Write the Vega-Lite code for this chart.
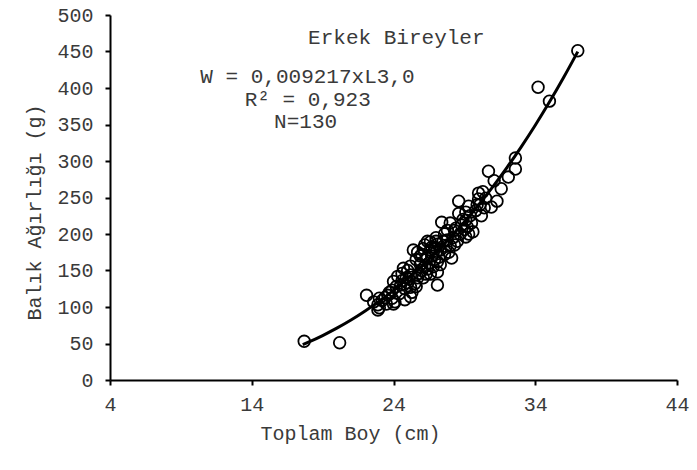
{
  "$schema": "https://vega.github.io/schema/vega-lite/v6.json",
  "width": 567,
  "height": 365,
  "autosize": {"type": "none"},
  "padding": {"left": 110, "top": 15, "right": 20, "bottom": 90},
  "background": "white",
  "config": {
    "view": {"stroke": null},
    "font": "Liberation Mono",
    "axis": {"labelFont": "Liberation Mono", "titleFont": "Liberation Mono", "labelFontSize": 20, "titleFontSize": 20, "titleFontWeight": "normal", "labelColor": "#3a3a3a", "titleColor": "#3a3a3a", "domainColor": "black", "domainWidth": 2, "tickColor": "black", "tickWidth": 2, "tickSize": 5, "grid": false, "labelOverlap": false, "labelFlush": false}
  },
  "datasets": {
    "points": [
      {"L": 17.7, "W": 53}, {"L": 20.2, "W": 51}, {"L": 22.1, "W": 116}, {"L": 22.6, "W": 107}, {"L": 23.0, "W": 112},
      {"L": 23.0, "W": 99}, {"L": 23.5, "W": 104}, {"L": 23.9, "W": 112}, {"L": 23.9, "W": 123}, {"L": 24.1, "W": 107},
      {"L": 22.9, "W": 96}, {"L": 24.3, "W": 142}, {"L": 24.5, "W": 130}, {"L": 24.7, "W": 153}, {"L": 24.6, "W": 136},
      {"L": 24.4, "W": 118}, {"L": 24.2, "W": 128}, {"L": 23.6, "W": 116}, {"L": 23.2, "W": 109}, {"L": 24.0, "W": 104},
      {"L": 24.8, "W": 125}, {"L": 25.2, "W": 114}, {"L": 25.2, "W": 127}, {"L": 25.2, "W": 144}, {"L": 25.2, "W": 156},
      {"L": 25.0, "W": 133}, {"L": 24.9, "W": 140}, {"L": 25.5, "W": 132}, {"L": 25.4, "W": 178}, {"L": 25.9, "W": 158},
      {"L": 25.8, "W": 146}, {"L": 25.6, "W": 165}, {"L": 25.7, "W": 140}, {"L": 26.0, "W": 172}, {"L": 26.0, "W": 150},
      {"L": 26.1, "W": 180}, {"L": 26.3, "W": 167}, {"L": 26.2, "W": 155}, {"L": 26.3, "W": 145}, {"L": 26.4, "W": 190},
      {"L": 26.6, "W": 189}, {"L": 26.6, "W": 178}, {"L": 26.5, "W": 160}, {"L": 26.7, "W": 170}, {"L": 26.8, "W": 155},
      {"L": 26.9, "W": 182}, {"L": 27.0, "W": 175}, {"L": 27.1, "W": 186}, {"L": 27.1, "W": 162}, {"L": 27.1, "W": 148},
      {"L": 27.1, "W": 130}, {"L": 27.0, "W": 195}, {"L": 27.2, "W": 168}, {"L": 27.3, "W": 178}, {"L": 27.4, "W": 216},
      {"L": 27.5, "W": 190}, {"L": 27.6, "W": 200}, {"L": 27.7, "W": 183}, {"L": 27.8, "W": 192}, {"L": 27.9, "W": 175},
      {"L": 28.0, "W": 184}, {"L": 28.1, "W": 167}, {"L": 28.2, "W": 195}, {"L": 28.3, "W": 205}, {"L": 28.4, "W": 208},
      {"L": 28.6, "W": 245}, {"L": 28.5, "W": 190}, {"L": 28.7, "W": 200}, {"L": 28.8, "W": 212}, {"L": 29.0, "W": 206},
      {"L": 29.1, "W": 230}, {"L": 29.1, "W": 219}, {"L": 29.2, "W": 210}, {"L": 29.1, "W": 196}, {"L": 29.3, "W": 238},
      {"L": 29.4, "W": 225}, {"L": 29.6, "W": 203}, {"L": 29.8, "W": 232}, {"L": 30.0, "W": 256}, {"L": 30.0, "W": 248},
      {"L": 30.2, "W": 225}, {"L": 30.1, "W": 240}, {"L": 30.5, "W": 249}, {"L": 30.4, "W": 236}, {"L": 30.7, "W": 286},
      {"L": 30.9, "W": 237}, {"L": 31.1, "W": 273}, {"L": 31.6, "W": 262}, {"L": 31.3, "W": 245}, {"L": 32.1, "W": 278},
      {"L": 32.6, "W": 304}, {"L": 32.6, "W": 289}, {"L": 34.2, "W": 401}, {"L": 35.0, "W": 382}, {"L": 37.0, "W": 451},
      {"L": 24.0, "W": 135}, {"L": 24.6, "W": 146}, {"L": 25.0, "W": 150}, {"L": 25.3, "W": 120}, {"L": 25.6, "W": 128},
      {"L": 25.9, "W": 170}, {"L": 26.1, "W": 140}, {"L": 26.4, "W": 152}, {"L": 26.7, "W": 182}, {"L": 26.9, "W": 165},
      {"L": 27.3, "W": 158}, {"L": 27.6, "W": 172}, {"L": 28.0, "W": 215}, {"L": 28.3, "W": 185}, {"L": 28.9, "W": 220},
      {"L": 29.5, "W": 215}, {"L": 29.9, "W": 240}, {"L": 30.3, "W": 258}, {"L": 23.4, "W": 113}, {"L": 22.9, "W": 103},
      {"L": 24.8, "W": 110}, {"L": 25.7, "W": 175}, {"L": 26.2, "W": 185}, {"L": 27.0, "W": 190}, {"L": 27.8, "W": 205},
      {"L": 28.6, "W": 228}, {"L": 29.3, "W": 200}, {"L": 26.6, "W": 145}, {"L": 25.1, "W": 138}, {"L": 23.7, "W": 120}
    ],
    "curve": [
      {"L": 17.6, "W": 48.4}, {"L": 18, "W": 51.8}, {"L": 19, "W": 60.9}, {"L": 20, "W": 71.0}, {"L": 21, "W": 82.2},
      {"L": 22, "W": 94.6}, {"L": 23, "W": 108.0}, {"L": 24, "W": 122.8}, {"L": 25, "W": 138.8}, {"L": 26, "W": 156.1},
      {"L": 27, "W": 174.8}, {"L": 28, "W": 194.9}, {"L": 29, "W": 216.6}, {"L": 30, "W": 239.8}, {"L": 31, "W": 264.5},
      {"L": 32, "W": 291.0}, {"L": 33, "W": 319.1}, {"L": 34, "W": 349.0}, {"L": 35, "W": 380.7}, {"L": 36, "W": 414.3},
      {"L": 37, "W": 449.8}
    ],
    "notes": [
      {"L": 24.2, "W": 468, "text": "Erkek Bireyler"},
      {"L": 17.93, "W": 415, "text": "W = 0,009217xL3,0"},
      {"L": 17.95, "W": 384, "text": "R² = 0,923"},
      {"L": 17.8, "W": 353, "text": "N=130"}
    ]
  },
  "encoding": {
    "x": {"field": "L", "type": "quantitative", "scale": {"domain": [4, 44], "nice": false, "zero": false},
          "axis": {"values": [4, 14, 24, 34, 44], "title": "Toplam Boy (cm)", "labelPadding": 9, "titlePadding": 9, "titleX": 240, "titleAnchor": null}},
    "y": {"field": "W", "type": "quantitative", "scale": {"domain": [0, 500], "nice": false, "zero": true},
          "axis": {"values": [0, 50, 100, 150, 200, 250, 300, 350, 400, 450, 500], "tickCount": 11, "title": "Balık Ağırlığı (g)", "labelPadding": 12, "titlePadding": 12, "titleY": 197, "labelOverlap": false}}
  },
  "layer": [
    {
      "data": {"name": "points"},
      "mark": {"type": "point", "shape": "circle", "filled": false, "stroke": "black", "strokeWidth": 1.8, "size": 135, "opacity": 1}
    },
    {
      "data": {"name": "curve"},
      "mark": {"type": "line", "color": "black", "strokeWidth": 3, "interpolate": "monotone"}
    },
    {
      "data": {"name": "notes"},
      "mark": {"type": "text", "font": "Liberation Mono", "fontSize": 21, "color": "#3a3a3a", "align": "center", "baseline": "middle"},
      "encoding": {"text": {"field": "text"}}
    }
  ]
}
